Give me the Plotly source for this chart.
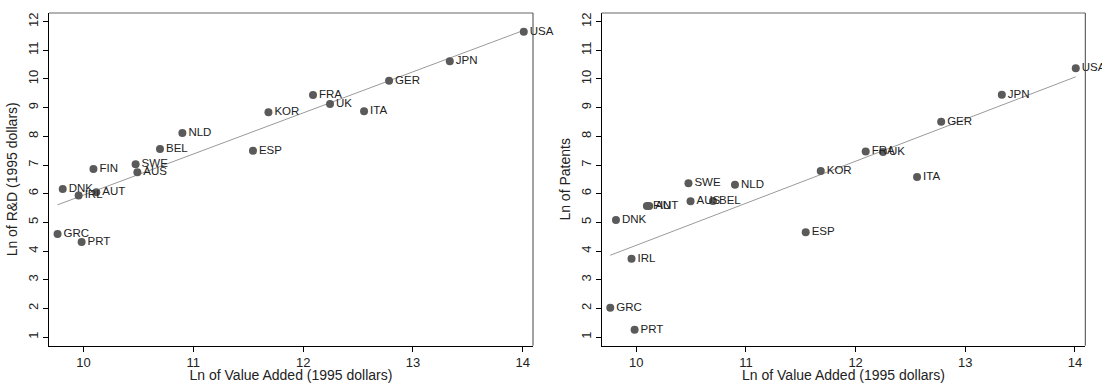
import numpy as np
import plotly.graph_objects as go
from plotly.subplots import make_subplots

# ---- data ----
rd_countries = ["DNK", "IRL", "AUT", "FIN", "SWE", "AUS", "BEL", "NLD", "ESP", "KOR",
                "FRA", "UK", "ITA", "GER", "JPN", "USA", "GRC", "PRT"]
rd_value_added = [9.81, 9.955, 10.116, 10.09, 10.474, 10.49, 10.696, 10.90, 11.543, 11.684,
                  12.09, 12.245, 12.555, 12.783, 13.336, 14.01, 9.763, 9.982]
rd_ln_rd = [6.165, 5.94, 6.05, 6.86, 7.03, 6.75, 7.56, 8.12, 7.50, 8.84,
            9.44, 9.13, 8.875, 9.94, 10.62, 11.65, 4.595, 4.316]

pat_countries = ["SWE", "NLD", "KOR", "AUS", "BEL", "FIN", "AUT", "DNK", "IRL", "GRC",
                 "PRT", "ESP", "FRA", "UK", "ITA", "GER", "JPN", "USA"]
pat_value_added = [10.476, 10.90, 11.682, 10.495, 10.70, 10.097, 10.118, 9.815, 9.957, 9.763,
                   9.985, 11.545, 12.092, 12.25, 12.56, 12.78, 13.333, 14.007]
pat_ln_patents = [6.36, 6.315, 6.79, 5.735, 5.745, 5.57, 5.57, 5.085, 3.73, 2.02,
                  1.255, 4.655, 7.475, 7.45, 6.58, 8.51, 9.45, 10.375]

x_ticks = [10, 11, 12, 13, 14]
y_ticks = [1, 2, 3, 4, 5, 6, 7, 8, 9, 10, 11, 12]

x_title = "Ln of Value Added (1995 dollars)"
y_titles = ["Ln of R&D (1995 dollars)", "Ln of Patents"]

FONT = "Liberation Sans, Arial, Helvetica, sans-serif"
MARKER_COLOR = "#5a5a5a"
FIT_COLOR = "#9a9a9a"

fig = make_subplots(rows=1, cols=2)


def add_panel(col, xs, ys, labels):
    xs = np.array(xs)
    ys = np.array(ys)
    slope, intercept = np.polyfit(xs, ys, 1)
    xl = np.array([xs.min(), xs.max()])
    fig.add_trace(go.Scatter(x=xl, y=slope * xl + intercept, mode="lines",
                             line=dict(color=FIT_COLOR, width=1), showlegend=False,
                             hoverinfo="skip"), row=1, col=col)
    fig.add_trace(go.Scatter(x=xs, y=ys, mode="markers+text", text=labels,
                             textposition="middle right", cliponaxis=False,
                             textfont=dict(family=FONT, size=11.5, color="#222"),
                             marker=dict(color=MARKER_COLOR, size=8),
                             showlegend=False), row=1, col=col)


add_panel(1, rd_value_added, rd_ln_rd, rd_countries)
add_panel(2, pat_value_added, pat_ln_patents, pat_countries)

xdoms = [[49 / 1102, 533 / 1102], [601.7 / 1102, 1085.3 / 1102]]
ydom = [(383 - 345.7) / 383, (383 - 13) / 383]

for i in range(2):
    xa = "xaxis" if i == 0 else "xaxis2"
    ya = "yaxis" if i == 0 else "yaxis2"
    fig.layout[xa].update(domain=xdoms[i], range=[9.685, 14.094],
                          tickvals=x_ticks, ticks="outside", ticklen=5, tickcolor="#000",
                          showline=True, linecolor="#000", linewidth=1,
                          showgrid=False, zeroline=False,
                          tickfont=dict(family=FONT, size=13, color="#222"),
                          title=dict(text=x_title, standoff=3,
                                     font=dict(family=FONT, size=14, color="#222")),
                          automargin=False)
    fig.layout[ya].update(domain=ydom, range=[0.70, 12.30],
                          tickvals=y_ticks, ticks="outside", ticklen=5, tickcolor="#000",
                          tickangle=-90,
                          showline=True, linecolor="#000", linewidth=1,
                          showgrid=False, zeroline=False,
                          tickfont=dict(family=FONT, size=13, color="#222"),
                          title=dict(text=y_titles[i], standoff=4,
                                     font=dict(family=FONT, size=14, color="#222")),
                          automargin=False)
    xr = "x" if i == 0 else "x2"
    yr = "y" if i == 0 else "y2"
    # top and right frame lines
    fig.add_shape(type="line", xref=f"{xr} domain", yref=f"{yr} domain",
                  x0=0, x1=1, y0=1, y1=1, line=dict(color="#666", width=1))
    fig.add_shape(type="line", xref=f"{xr} domain", yref=f"{yr} domain",
                  x0=1, x1=1, y0=0, y1=1, line=dict(color="#444", width=1))

fig.update_layout(width=1102, height=383, margin=dict(l=0, r=0, t=0, b=0),
                  paper_bgcolor="white", plot_bgcolor="white",
                  font=dict(family=FONT, color="#222"))

fig.write_html("out.html")
